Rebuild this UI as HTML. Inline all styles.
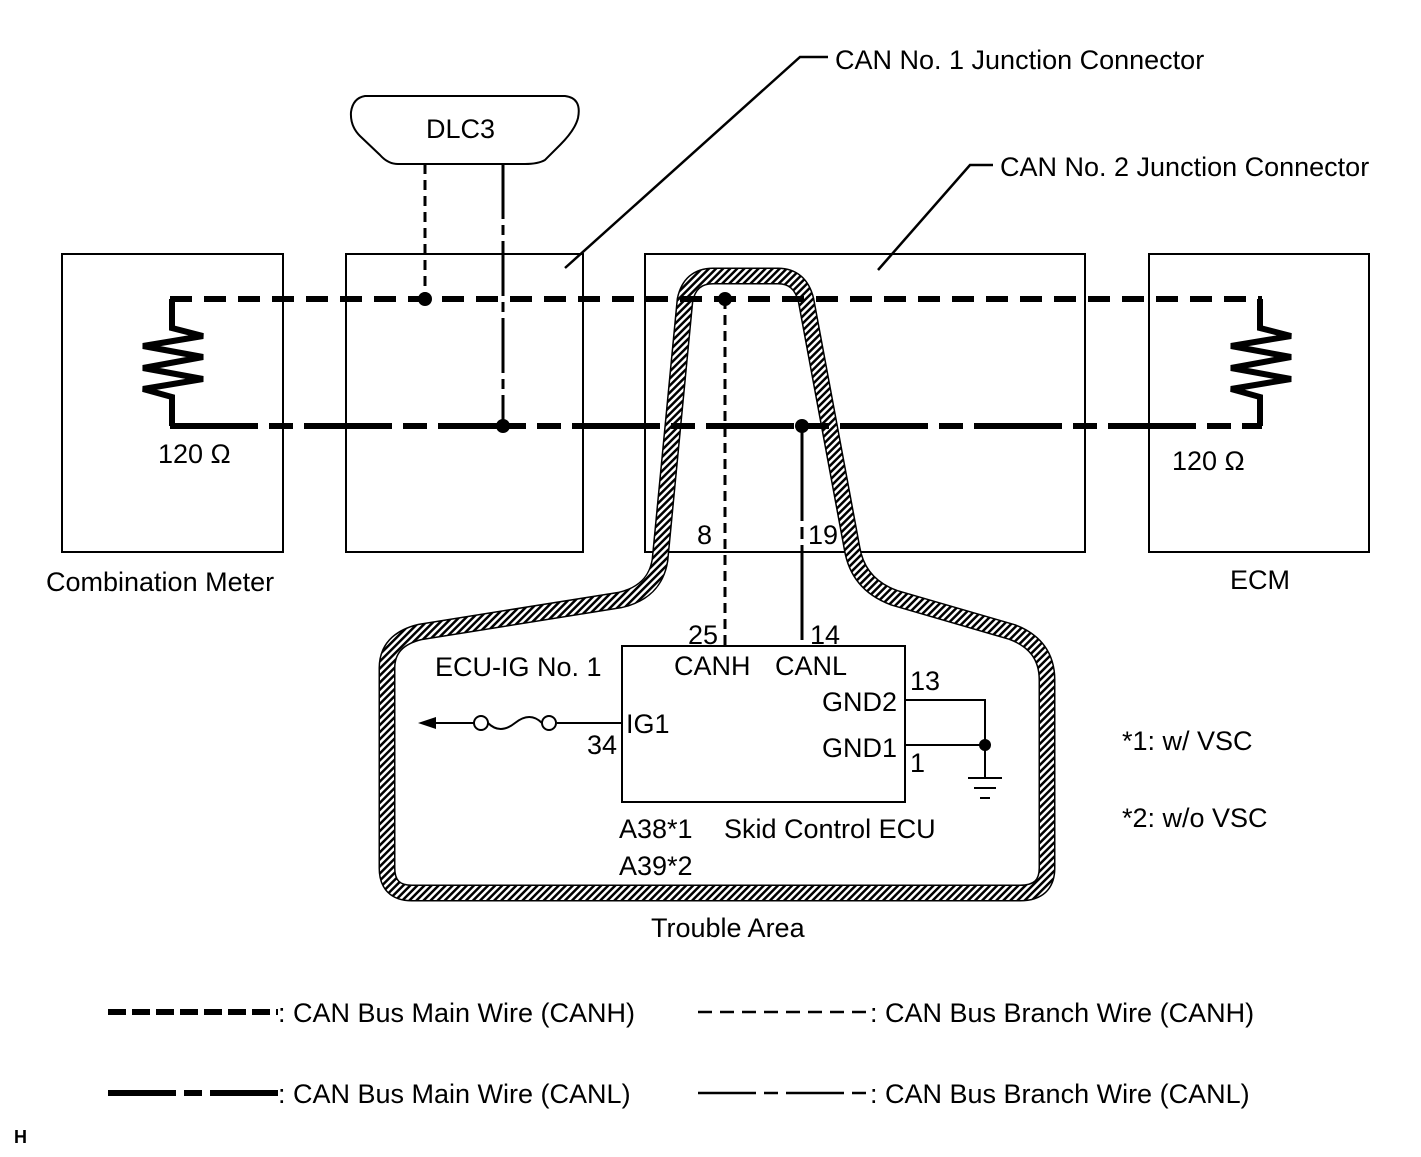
<!DOCTYPE html>
<html><head><meta charset="utf-8"><style>
html,body{margin:0;padding:0;background:#fff;}
svg{display:block;}
text{font-family:"Liberation Sans",Arial,sans-serif;font-size:27px;fill:#000;}
</style></head><body>
<svg width="1421" height="1157" viewBox="0 0 1421 1157" xmlns="http://www.w3.org/2000/svg">
<defs>
<pattern id="h" patternUnits="userSpaceOnUse" width="5" height="5" patternTransform="rotate(45)">
<rect width="5" height="5" fill="#fff"/><rect width="2.5" height="5" fill="#000"/>
</pattern>
</defs>
<g fill="none" stroke="#000" stroke-width="2">
<rect x="62" y="254" width="221" height="298"/>
<rect x="346" y="254" width="237" height="298"/>
<rect x="645" y="254" width="440" height="298"/>
<rect x="1149" y="254" width="220" height="298"/>
<rect x="622" y="646" width="283" height="156"/>
<path d="M365,96 L565,96 Q582,98 578,118 Q575,130 560,145 L545,160 Q538,164 525,164 L398,164 Q388,164 380,155 L360,136 Q350,126 351,112 Q353,98 365,96 Z"/>
<polyline points="828,57 800,57 565,268" stroke-width="2.5"/>
<polyline points="993,165 970,165 878,270" stroke-width="2.5"/>
<polyline points="905,700 985,700 985,745"/>
<polyline points="905,745 985,745 985,778"/>
<line x1="968" y1="778" x2="1002" y2="778"/>
<line x1="974" y1="788" x2="996" y2="788"/>
<line x1="980" y1="798" x2="990" y2="798"/>
<line x1="622" y1="723" x2="557" y2="723"/>
<line x1="474" y1="723" x2="430" y2="723"/>
<circle cx="481" cy="723" r="7"/>
<circle cx="549" cy="723" r="7"/>
<path d="M488,723 Q500,735 515,723 Q530,711 542,723"/>
</g>
<polygon points="418,723 436,717 436,729" fill="#000"/>
<circle cx="985" cy="745" r="6" fill="#000"/>
<path d="M713,276 L778,276 Q800,276 806,300 L852,548 Q858,585 895,598 L1012,632 Q1047,645 1047,680 L1047,868 Q1047,893 1020,893 L412,893 Q387,893 387,868 L387,668 Q387,640 420,632 L620,600 Q655,592 660,560 L685,300 Q690,276 713,276 Z" fill="none" stroke="#000" stroke-width="17" stroke-linejoin="round"/>
<path d="M713,276 L778,276 Q800,276 806,300 L852,548 Q858,585 895,598 L1012,632 Q1047,645 1047,680 L1047,868 Q1047,893 1020,893 L412,893 Q387,893 387,868 L387,668 Q387,640 420,632 L620,600 Q655,592 660,560 L685,300 Q690,276 713,276 Z" fill="none" stroke="url(#h)" stroke-width="14" stroke-linejoin="round"/>
<g fill="none" stroke="#000" stroke-width="6">
<line x1="170" y1="299" x2="1262" y2="299" stroke-dasharray="22 12"/>
<line x1="170" y1="426" x2="1262" y2="426" stroke-dasharray="88 11 24 11"/>
<polyline points="172,299 172,328 203,336 143,346 203,357 143,368 203,379 143,389 172,397 172,426" stroke-linejoin="miter"/>
<polyline points="1260,299 1260,328 1291,336 1231,346 1291,357 1231,368 1291,379 1231,389 1260,397 1260,426" stroke-linejoin="miter"/>
</g>
<g fill="none" stroke="#000" stroke-width="3">
<line x1="425" y1="164" x2="425" y2="299" stroke-dasharray="10 6"/>
<line x1="503" y1="164" x2="503" y2="426" stroke-dasharray="55 6 10 6"/>
<line x1="725" y1="299" x2="725" y2="646" stroke-dasharray="10 6"/>
<line x1="802" y1="426" x2="802" y2="646" stroke-dasharray="95 6 12 6"/>
</g>
<g fill="#000">
<circle cx="425" cy="299" r="7"/><circle cx="503" cy="426" r="7"/>
<circle cx="725" cy="299" r="7"/><circle cx="802" cy="426" r="7"/>
</g>
<text x="835" y="69">CAN No. 1 Junction Connector</text>
<text x="1000" y="176">CAN No. 2 Junction Connector</text>
<text x="426" y="138">DLC3</text>
<text x="158" y="463">120 Ω</text>
<text x="1172" y="470">120 Ω</text>
<text x="46" y="591">Combination Meter</text>
<text x="1230" y="589">ECM</text>
<text x="697" y="544">8</text>
<text x="808" y="544">19</text>
<text x="688" y="644">25</text>
<text x="810" y="644">14</text>
<text x="435" y="676">ECU-IG No. 1</text>
<text x="674" y="675">CANH</text>
<text x="775" y="675">CANL</text>
<text x="910" y="690">13</text>
<text x="822" y="711">GND2</text>
<text x="822" y="757">GND1</text>
<text x="910" y="772">1</text>
<text x="626" y="733">IG1</text>
<text x="587" y="754">34</text>
<text x="619" y="838">A38*1</text>
<text x="724" y="838">Skid Control ECU</text>
<text x="619" y="875">A39*2</text>
<text x="1122" y="750">*1: w/ VSC</text>
<text x="1122" y="827">*2: w/o VSC</text>
<text x="651" y="937">Trouble Area</text>
<g fill="none" stroke="#000">
<line x1="108" y1="1012" x2="278" y2="1012" stroke-width="6" stroke-dasharray="18 6"/>
<line x1="108" y1="1093" x2="278" y2="1093" stroke-width="6" stroke-dasharray="68 8 18 8"/>
<line x1="698" y1="1012" x2="866" y2="1012" stroke-width="2.5" stroke-dasharray="14 8"/>
<line x1="698" y1="1093" x2="866" y2="1093" stroke-width="2.5" stroke-dasharray="58 8 14 8"/>
</g>
<text x="278" y="1022">: CAN Bus Main Wire (CANH)</text>
<text x="278" y="1103">: CAN Bus Main Wire (CANL)</text>
<text x="870" y="1022">: CAN Bus Branch Wire (CANH)</text>
<text x="870" y="1103">: CAN Bus Branch Wire (CANL)</text>
<text x="14" y="1143" style="font-size:18px;font-weight:bold">H</text>
</svg>
</body></html>
